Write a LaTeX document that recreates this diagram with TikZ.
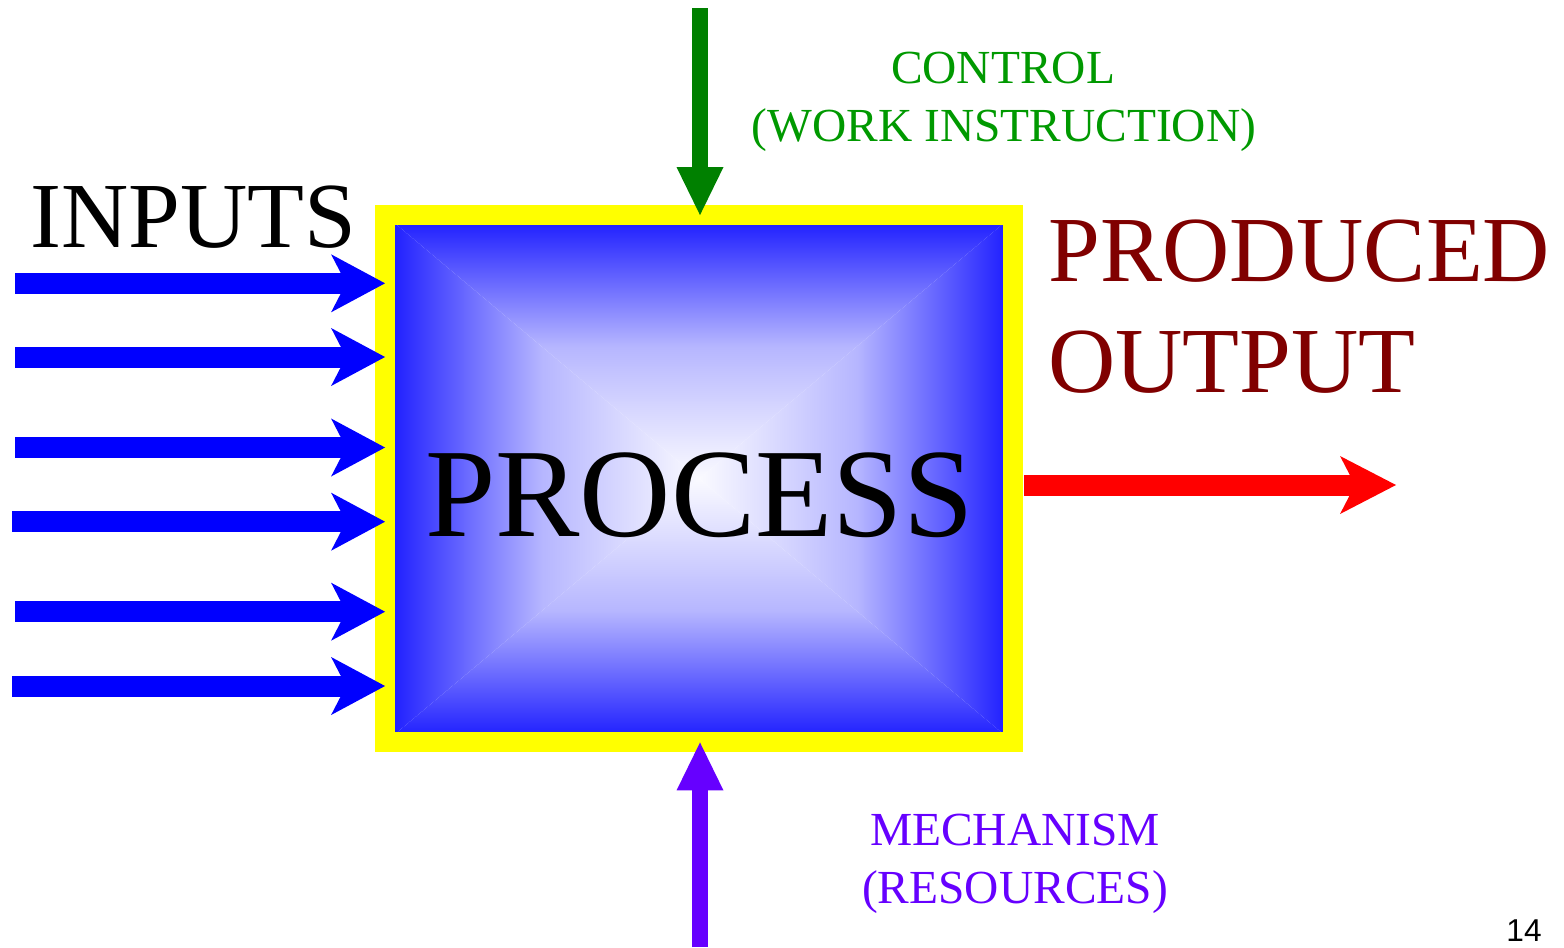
\documentclass[tikz,border=0pt]{standalone}
\usepackage{fontspec}
\setmainfont{Liberation Serif}
\newfontfamily\pagefont{Liberation Sans}
\usetikzlibrary{arrows.meta,backgrounds}
\definecolor{inblue}{RGB}{0,0,255}
\definecolor{ctlarrow}{RGB}{0,128,0}
\definecolor{ctltext}{RGB}{0,153,0}
\definecolor{mechcol}{RGB}{102,0,255}
\definecolor{outred}{RGB}{255,0,0}
\definecolor{outtext}{RGB}{128,0,0}
\definecolor{boxyellow}{RGB}{255,255,0}
\definecolor{boxedge}{RGB}{24,24,255}
\definecolor{boxcentre}{RGB}{250,250,255}
\colorlet{boxmid}{boxedge!30!boxcentre}
\tikzset{procbox/.style={draw=boxyellow, line width=0.4cm, inner sep=0pt, outer sep=0pt,
      minimum width=12.57cm, minimum height=10.55cm},
    inarrow/.style={draw=inblue, line width=0.42cm,
      -{Stealth[length=1.08cm, width=1.16cm, inset=0.3cm, line width=0pt]}},
    outarrow/.style={draw=outred, line width=0.42cm,
      -{Stealth[length=1.12cm, width=1.16cm, inset=0.3cm, line width=0pt]}},
    vertarrow/.style={line width=0.32cm,
      -{Triangle[length=0.96cm, width=0.94cm, line width=0pt]}},
    bigtext/.style={inner sep=0pt, anchor=base west, font=\fontsize{53}{63}\selectfont},
    smalltext/.style={inner sep=0pt, anchor=base, font=\fontsize{27}{37}\selectfont}}

\begin{document}
\begin{tikzpicture}[x=0.02cm, y=-0.02cm]
    \useasboundingbox (0,0) rectangle (1564,947);
    \node[procbox] (box) at (699.25,478.75) {};
    \begin{pgfonlayer}{background}
        \shade[top color=boxedge, bottom color=boxcentre, middle color=boxmid]
          (box.north west) -- (box.north east) -- (box.center) -- cycle;
        \shade[top color=boxcentre, bottom color=boxedge, middle color=boxmid]
          (box.south west) -- (box.south east) -- (box.center) -- cycle;
        \shade[left color=boxedge, right color=boxcentre, middle color=boxmid]
          (box.north west) -- (box.south west) -- (box.center) -- cycle;
        \shade[left color=boxcentre, right color=boxedge, middle color=boxmid]
          (box.north east) -- (box.south east) -- (box.center) -- cycle;
    \end{pgfonlayer}
    \node[inner sep=0pt, anchor=base, font=\fontsize{72}{80}\selectfont]
      (proc) at ([yshift=-1.16cm]box.center) {PROCESS};

    \coordinate (in1) at (15,283.3);
    \coordinate (in2) at (15,357);
    \coordinate (in3) at (15,447.5);
    \coordinate (in4) at (12,521.7);
    \coordinate (in5) at (15,611.7);
    \coordinate (in6) at (12,686);
    \foreach \i in {1,...,6}
        \draw[inarrow] (in\i) -- (in\i -| box.west);

    \coordinate (out) at (1396,485);
    \draw[outarrow] ([xshift=0.22cm]box.east |- out) -- (out);

    \coordinate (ctl) at (700,8);
    \draw[vertarrow, draw=ctlarrow] (ctl) -- (ctl |- box.north);
    \coordinate (mech) at (700,947);
    \draw[vertarrow, draw=mechcol] (mech) -- (mech |- box.south);

    \node[bigtext] (inputs) at (30,247) {INPUTS};
    \node[bigtext, text=outtext] (produced) at (1048,281) {PRODUCED};
    \node[bigtext, text=outtext] (output) at (1048,392) {OUTPUT};
    \node[smalltext, text=ctltext] (control) at (1003,83) {CONTROL};
    \node[smalltext, text=ctltext] (workinstr) at (1004,141) {(WORK INSTRUCTION)};
    \node[smalltext, text=mechcol] (mechanism) at (1015,845) {MECHANISM};
    \node[smalltext, text=mechcol] (resources) at (1015,903) {(RESOURCES)};
    \node[inner sep=0pt, anchor=base, font=\pagefont\fontsize{18}{20}\selectfont]
      (pagenum) at (1524,941) {14};
\end{tikzpicture}
\end{document}
